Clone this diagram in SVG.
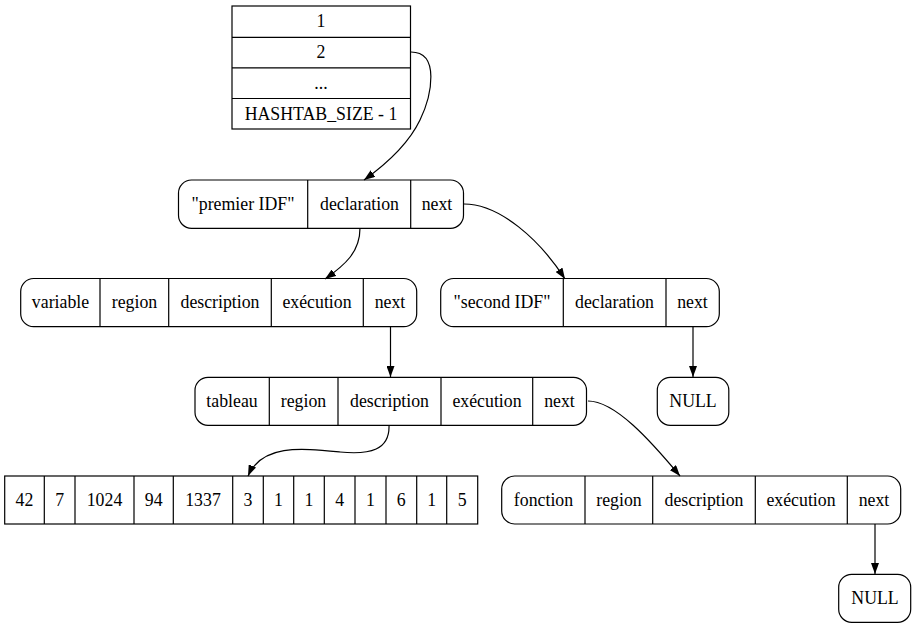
<svg xmlns="http://www.w3.org/2000/svg" width="916" height="629" viewBox="0 0 916 629">
<style>
  .box { fill: #fff; stroke: #000; stroke-width: 1.2; }
  .div { stroke: #000; stroke-width: 1.2; fill: none; }
  .t { font-family: "Liberation Serif", "Times New Roman", serif; font-size: 17.8px; fill: #000; text-anchor: middle; }
  .edge { fill: none; stroke: #000; stroke-width: 1.2; marker-end: url(#arr); }
</style>
<defs>
  <marker id="arr" viewBox="0 0 11 8" refX="11" refY="4" markerWidth="11" markerHeight="8" markerUnits="userSpaceOnUse" orient="auto">
    <path d="M0,0 L11,4 L0,8 z" fill="#000"/>
  </marker>
</defs>
<rect width="916" height="629" fill="#fff"/>

<g id="hashtab">
  <rect class="box" x="232" y="6" width="178.5" height="123"/>
  <path class="div" d="M232,37.3 H410.5 M232,67.8 H410.5 M232,98.5 H410.5"/>
  <text class="t" x="321" y="27">1</text>
  <text class="t" x="321" y="58">2</text>
  <text class="t" x="321" y="88.5">...</text>
  <text class="t" x="321" y="119.5">HASHTAB_SIZE - 1</text>
</g>

<g id="premier">
  <rect class="box" x="178.5" y="180" width="285" height="48.3" rx="13"/>
  <path class="div" d="M307.7,180 V228.3 M410.7,180 V228.3"/>
  <text class="t" x="243" y="209.5">"premier IDF"</text>
  <text class="t" x="359.5" y="209.5">declaration</text>
  <text class="t" x="437" y="209.5">next</text>
</g>

<g id="variable">
  <rect class="box" x="20.7" y="278.5" width="396" height="48.2" rx="13"/>
  <path class="div" d="M100,278.5 V326.7 M168.7,278.5 V326.7 M271.3,278.5 V326.7 M363.3,278.5 V326.7"/>
  <text class="t" x="60.5" y="308">variable</text>
  <text class="t" x="134.5" y="308">region</text>
  <text class="t" x="220" y="308">description</text>
  <text class="t" x="317" y="308">exécution</text>
  <text class="t" x="390" y="308">next</text>
</g>

<g id="second">
  <rect class="box" x="440.7" y="278.5" width="278.6" height="48.2" rx="13"/>
  <path class="div" d="M563.3,278.5 V326.7 M666,278.5 V326.7"/>
  <text class="t" x="502" y="308">"second IDF"</text>
  <text class="t" x="614.5" y="308">declaration</text>
  <text class="t" x="692.5" y="308">next</text>
</g>

<g id="null1">
  <rect class="box" x="657.3" y="377.3" width="71.5" height="48" rx="13"/>
  <text class="t" x="693" y="406.5">NULL</text>
</g>

<g id="tableau">
  <rect class="box" x="195" y="377.3" width="391.5" height="48" rx="13"/>
  <path class="div" d="M269.3,377.3 V425.3 M338,377.3 V425.3 M441,377.3 V425.3 M532.7,377.3 V425.3"/>
  <text class="t" x="232" y="406.5">tableau</text>
  <text class="t" x="303.5" y="406.5">region</text>
  <text class="t" x="389.5" y="406.5">description</text>
  <text class="t" x="487" y="406.5">exécution</text>
  <text class="t" x="559.5" y="406.5">next</text>
</g>

<g id="array">
  <rect class="box" x="4.7" y="476" width="473" height="48"/>
  <path class="div" d="M44.3,476 V524 M75,476 V524 M134,476 V524 M173.3,476 V524 M232.7,476 V524 M263.3,476 V524 M293.7,476 V524 M324.3,476 V524 M355,476 V524 M386,476 V524 M416.7,476 V524 M446.7,476 V524"/>
  <text class="t" x="24.5" y="505.5">42</text>
  <text class="t" x="59.7" y="505.5">7</text>
  <text class="t" x="104.5" y="505.5">1024</text>
  <text class="t" x="153.7" y="505.5">94</text>
  <text class="t" x="203" y="505.5">1337</text>
  <text class="t" x="248" y="505.5">3</text>
  <text class="t" x="278.5" y="505.5">1</text>
  <text class="t" x="309" y="505.5">1</text>
  <text class="t" x="339.7" y="505.5">4</text>
  <text class="t" x="370.5" y="505.5">1</text>
  <text class="t" x="401.3" y="505.5">6</text>
  <text class="t" x="431.7" y="505.5">1</text>
  <text class="t" x="462.2" y="505.5">5</text>
</g>

<g id="fonction">
  <rect class="box" x="501.7" y="476" width="399" height="48" rx="13"/>
  <path class="div" d="M585,476 V524 M652.7,476 V524 M755.3,476 V524 M847.3,476 V524"/>
  <text class="t" x="543.5" y="505.5">fonction</text>
  <text class="t" x="619" y="505.5">region</text>
  <text class="t" x="704" y="505.5">description</text>
  <text class="t" x="801" y="505.5">exécution</text>
  <text class="t" x="874" y="505.5">next</text>
</g>

<g id="null2">
  <rect class="box" x="838.7" y="574.3" width="72" height="48" rx="13"/>
  <text class="t" x="875" y="603.5">NULL</text>
</g>

<g id="edges">
  <path class="edge" d="M411,52 C440,52 432,95 420,120 C408,145 385,165 364,180"/>
  <path class="edge" d="M464,204 C500,204 540,240 565,279"/>
  <path class="edge" d="M360,228 C360,252 345,265 325,279"/>
  <path class="edge" d="M390.5,327 L390.5,377"/>
  <path class="edge" d="M693,327 L693,377"/>
  <path class="edge" d="M389,425 C390,450 370,455 340,452 C300,448 262,444 248,476"/>
  <path class="edge" d="M588,401 C615,401 650,440 680,476"/>
  <path class="edge" d="M875,524 L875,574"/>
</g>
</svg>
